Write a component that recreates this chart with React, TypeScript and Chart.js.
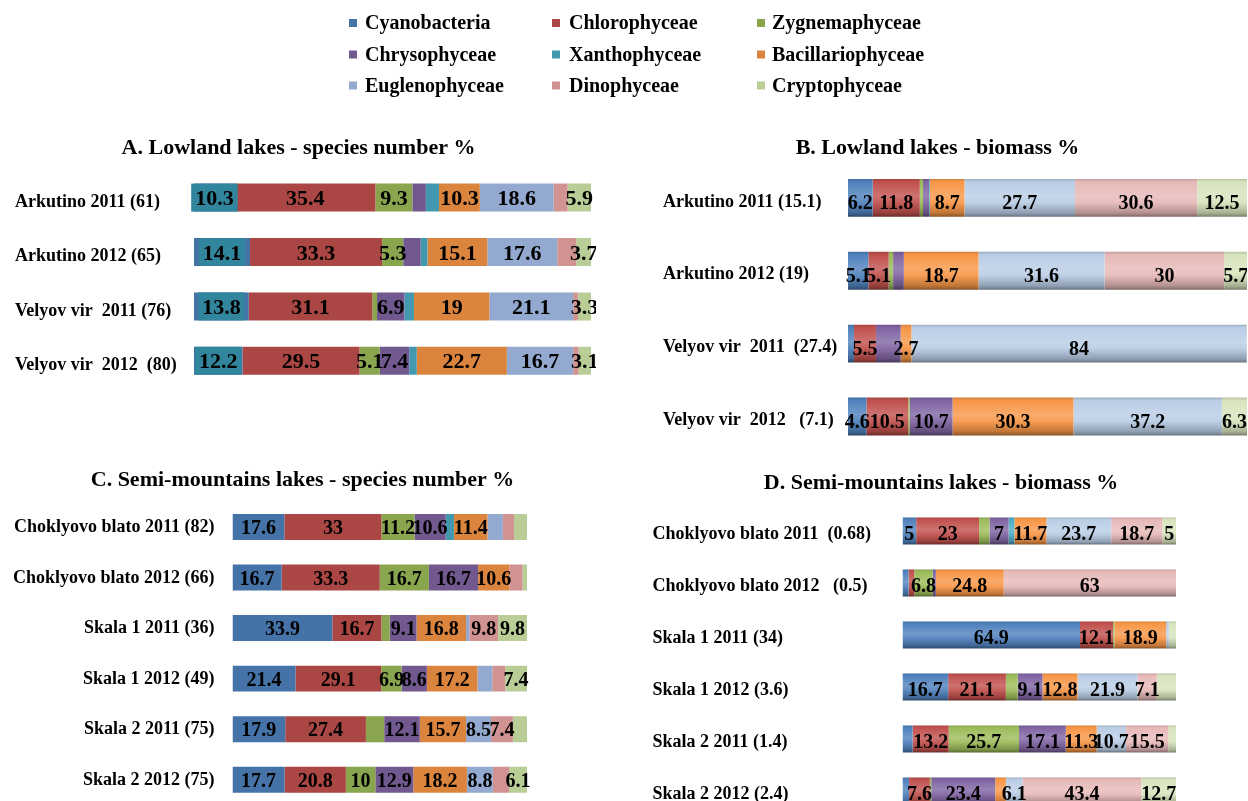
import React, { useEffect, useRef } from 'react';
import { Chart, registerables } from 'chart.js';

Chart.register(...registerables);

const FONT = "'Liberation Serif', 'Times New Roman', Times, serif";

// ---------------- data ----------------
const SERIES = [
  'Cyanobacteria', 'Chlorophyceae', 'Zygnemaphyceae',
  'Chrysophyceae', 'Xanthophyceae', 'Bacillariophyceae',
  'Euglenophyceae', 'Dinophyceae', 'Cryptophyceae',
];
const FLAT_COLORS = ['#4572A7', '#AA4643', '#89A54E', '#71588F', '#4198AF', '#DB843D', '#93A9CF', '#D19392', '#B9CD96'];
const GRADIENT_COLORS = ['#4F81BD', '#C0504D', '#9BBB59', '#8064A2', '#4BACC6', '#F79646', '#B9CDE5', '#E6B9B8', '#D7E4BD'];
const LABEL_BOX_COLOR = '#31859C';

// A. Lowland lakes - species number %
const A_TITLE = 'A. Lowland lakes - species number %';
const A_LAKES = ['Arkutino 2011 (61)', 'Arkutino 2012 (65)', 'Velyov vir  2011 (76)', 'Velyov vir  2012  (80)'];
const A_VALUES = [
  [10.3, 35.4, 9.3, 3.4, 3.3, 10.3, 18.6, 3.5, 5.9],
  [14.1, 33.3, 5.3, 4.4, 1.7, 15.1, 17.6, 4.8, 3.7],
  [13.8, 31.1, 1.2, 6.9, 2.4, 19, 21.1, 1.2, 3.3],
  [12.2, 29.5, 5.1, 7.4, 1.9, 22.7, 16.7, 1.4, 3.1],
];
const A_SHOWN = [
  [1, 1, 1, 0, 0, 1, 1, 0, 1],
  [1, 1, 1, 0, 0, 1, 1, 0, 1],
  [1, 1, 0, 1, 0, 1, 1, 0, 1],
  [1, 1, 1, 1, 0, 1, 1, 0, 1],
];

// B. Lowland lakes - biomass %
const B_TITLE = 'B. Lowland lakes - biomass %';
const B_LAKES = ['Arkutino 2011 (15.1)', 'Arkutino 2012 (19)', 'Velyov vir  2011  (27.4)', 'Velyov vir  2012   (7.1)'];
const B_VALUES = [
  [6.2, 11.8, 0.8, 1.5, 0.2, 8.7, 27.7, 30.6, 12.5],
  [5.1, 5.1, 1.1, 2.7, 0, 18.7, 31.6, 30, 5.7],
  [1.5, 5.5, 0, 6.2, 0, 2.7, 84, 0.1, 0],
  [4.6, 10.5, 0.4, 10.7, 0, 30.3, 37.2, 0, 6.3],
];
const B_SHOWN = [
  [1, 1, 0, 0, 0, 1, 1, 1, 1],
  [1, 1, 0, 0, 0, 1, 1, 1, 1],
  [0, 1, 0, 0, 0, 1, 1, 0, 0],
  [1, 1, 0, 1, 0, 1, 1, 0, 1],
];

// C. Semi-mountains lakes - species number %
const C_TITLE = 'C. Semi-mountains lakes - species number %';
const C_LAKES = ['Choklyovo blato 2011 (82)', 'Choklyovo blato 2012 (66)', 'Skala 1 2011 (36)', 'Skala 1 2012 (49)', 'Skala 2 2011 (75)', 'Skala 2 2012 (75)'];
const C_VALUES = [
  [17.6, 33, 11.2, 10.6, 2.8, 11.4, 5.2, 3.8, 4.4],
  [16.7, 33.3, 16.7, 16.7, 0, 10.6, 0, 4.5, 1.5],
  [33.9, 16.7, 2.8, 9.1, 0, 16.8, 1.1, 9.8, 9.8],
  [21.4, 29.1, 6.9, 8.6, 0, 17.2, 5.0, 4.4, 7.4],
  [17.9, 27.4, 6.2, 12.1, 0, 15.7, 8.5, 7.4, 4.8],
  [17.7, 20.8, 10, 12.9, 0, 18.2, 8.8, 5.5, 6.1],
];
const C_SHOWN = [
  [1, 1, 1, 1, 0, 1, 0, 0, 0],
  [1, 1, 1, 1, 0, 1, 0, 0, 0],
  [1, 1, 0, 1, 0, 1, 0, 1, 1],
  [1, 1, 1, 1, 0, 1, 0, 0, 1],
  [1, 1, 0, 1, 0, 1, 1, 1, 0],
  [1, 1, 1, 1, 0, 1, 1, 0, 1],
];

// D. Semi-mountains lakes - biomass %
const D_TITLE = 'D. Semi-mountains lakes - biomass %';
const D_LAKES = ['Choklyovo blato 2011  (0.68)', 'Choklyovo blato 2012   (0.5)', 'Skala 1 2011 (34)', 'Skala 1 2012 (3.6)', 'Skala 2 2011 (1.4)', 'Skala 2 2012 (2.4)'];
const D_VALUES = [
  [5, 23, 3.8, 7, 2.1, 11.7, 23.7, 18.7, 5],
  [2.2, 2.1, 6.8, 1.1, 0, 24.8, 0, 63, 0],
  [64.9, 12.1, 0.5, 0, 0, 18.9, 1, 0, 2.6],
  [16.7, 21.1, 4.3, 9.1, 0, 12.8, 21.9, 7.1, 7.0],
  [3.7, 13.2, 25.7, 17.1, 0, 11.3, 10.7, 15.5, 2.8],
  [2.4, 7.6, 0.5, 23.4, 0, 3.9, 6.1, 43.4, 12.7],
];
const D_SHOWN = [
  [1, 1, 0, 1, 0, 1, 1, 1, 1],
  [0, 0, 1, 0, 0, 1, 0, 1, 0],
  [1, 1, 0, 0, 0, 1, 0, 0, 0],
  [1, 1, 0, 1, 0, 1, 1, 1, 0],
  [0, 1, 1, 1, 0, 1, 1, 1, 0],
  [0, 1, 0, 1, 0, 0, 1, 1, 1],
];

// ---------------- layout / style ----------------
type PanelDef = {
  title: string;
  lakes: string[];
  values: number[][];
  shown: number[][];
  gradient: boolean;
  left: number; top: number; width: number; height: number;
  padW: number; yW: number; rW: number;
  titlePadTop: number; titlePadBottom: number;
  tickPad: number; crossAlign: 'near' | 'center' | 'far'; tickDy: number;
  labelSize: number; labelDy: number;
  barPct: number;
  boxSeries: number;
};

const PANELS: PanelDef[] = [
  {
    title: A_TITLE, lakes: A_LAKES, values: A_VALUES, shown: A_SHOWN, gradient: false,
    left: 1, top: 120, width: 595, height: 268, padW: 14, yW: 179, rW: 5,
    titlePadTop: 15, titlePadBottom: 9, tickPad: 15, crossAlign: 'far', tickDy: 4.5,
    labelSize: 22, labelDy: 2, barPct: 0.514, boxSeries: 0,
  },
  {
    title: B_TITLE, lakes: B_LAKES, values: B_VALUES, shown: B_SHOWN, gradient: true,
    left: 628, top: 120, width: 619, height: 333, padW: 35, yW: 185, rW: 0,
    titlePadTop: 15, titlePadBottom: 0, tickPad: 8, crossAlign: 'far', tickDy: 4,
    labelSize: 20, labelDy: 6, barPct: 0.52, boxSeries: -1,
  },
  {
    title: C_TITLE, lakes: C_LAKES, values: C_VALUES, shown: C_SHOWN, gradient: false,
    left: 5, top: 455, width: 595, height: 350, padW: 0, yW: 227.5, rW: 73,
    titlePadTop: 12.3, titlePadBottom: 8, tickPad: 18, crossAlign: 'near', tickDy: 0.5,
    labelSize: 20, labelDy: 2, barPct: 0.514, boxSeries: -1,
  },
  {
    title: D_TITLE, lakes: D_LAKES, values: D_VALUES, shown: D_SHOWN, gradient: true,
    left: 640, top: 455, width: 602, height: 362, padW: 12.5, yW: 250, rW: 66,
    titlePadTop: 14.8, titlePadBottom: 8.8, tickPad: 30, crossAlign: 'far', tickDy: 3,
    labelSize: 20, labelDy: 4, barPct: 0.52, boxSeries: -1,
  },
];

const LEGEND_BOX_X = [349, 552, 757];
const LEGEND_TEXT_X = [365, 569, 772];
const LEGEND_ROW_Y = [23, 54.5, 85.5];

// ---------------- helpers ----------------
function hexToRgb(h: string) {
  const n = parseInt(h.slice(1), 16);
  return [(n >> 16) & 255, (n >> 8) & 255, n & 255];
}
function mix(h: string, target: number, t: number) {
  const [r, g, b] = hexToRgb(h);
  const f = (c: number) => Math.round(c + (target - c) * t);
  return `rgb(${f(r)},${f(g)},${f(b)})`;
}

function gradientFill(c: any, hex: string, barPct: number) {
  const chart = c.chart;
  const area = chart.chartArea;
  const ys = chart.scales && chart.scales.y;
  if (!area || !ys || c.dataIndex === undefined) return hex;
  const n = chart.data.labels.length;
  const band = (area.bottom - area.top) / n;
  const h = band * barPct;
  const yc = ys.getPixelForValue(c.dataIndex);
  if (!isFinite(yc) || !isFinite(h) || h <= 0) return hex;
  const g = chart.ctx.createLinearGradient(0, yc - h / 2, 0, yc + h / 2);
  g.addColorStop(0, mix(hex, 0, 0.15));
  g.addColorStop(0.08, hex);
  g.addColorStop(0.45, mix(hex, 255, 0.2));
  g.addColorStop(0.62, mix(hex, 255, 0.08));
  g.addColorStop(0.9, mix(hex, 0, 0.22));
  g.addColorStop(1, mix(hex, 0, 0.45));
  return g;
}

function makeValueLabels(p: PanelDef) {
  return {
    id: 'valueLabels',
    afterDatasetsDraw(chart: any) {
      const ctx = chart.ctx;
      ctx.save();
      ctx.font = `bold ${p.labelSize}px ${FONT}`;
      ctx.textAlign = 'center';
      ctx.textBaseline = 'middle';
      chart.data.datasets.forEach((ds: any, s: number) => {
        const meta = chart.getDatasetMeta(s);
        meta.data.forEach((bar: any, i: number) => {
          if (!p.shown[i] || !p.shown[i][s]) return;
          const { x, y, base, height } = bar.getProps(['x', 'y', 'base', 'height'], true);
          const cx = (x + base) / 2;
          const text = String(ds.data[i]);
          if (s === p.boxSeries) {
            const w = ctx.measureText(text).width + 8;
            ctx.fillStyle = LABEL_BOX_COLOR;
            ctx.fillRect(cx - w / 2, y - height / 2, w, height);
          }
          ctx.fillStyle = '#000';
          ctx.fillText(text, cx, y + p.labelDy);
        });
      });
      ctx.restore();
    },
  };
}

function spacerAxis(position: 'left' | 'right', width: number, weight: number) {
  return {
    type: 'category',
    position,
    weight,
    grid: { display: false, drawTicks: false },
    border: { display: false },
    ticks: { display: false },
    afterFit: (sc: any) => {
      sc.width = width;
      sc.paddingTop = 0;
      sc.paddingBottom = 0;
    },
  };
}

function buildConfig(p: PanelDef): any {
  const datasets = SERIES.map((name, s) => ({
    label: name,
    data: p.values.map((row) => row[s]),
    backgroundColor: p.gradient
      ? (c: any) => gradientFill(c, GRADIENT_COLORS[s], p.barPct)
      : FLAT_COLORS[s],
    borderWidth: 0,
    barPercentage: p.barPct,
    categoryPercentage: 1,
  }));
  return {
    type: 'bar',
    data: { labels: p.lakes, datasets },
    options: {
      indexAxis: 'y',
      responsive: false,
      animation: false,
      devicePixelRatio: 1,
      layout: { padding: 0 },
      events: [],
      scales: {
        x: { stacked: true, min: 0, max: 100, display: false },
        y: {
          stacked: true,
          position: 'left',
          weight: 0,
          grid: { display: false, drawTicks: false },
          border: { display: false },
          ticks: {
            color: '#000',
            font: { family: FONT, size: 18, weight: 'bold' },
            padding: p.tickPad,
            crossAlign: p.crossAlign,
            labelOffset: p.tickDy,
            autoSkip: false,
          },
          afterFit: (sc: any) => {
            sc.width = p.yW;
            sc.paddingTop = 0;
            sc.paddingBottom = 0;
          },
        },
        yPad: spacerAxis('left', p.padW, 10),
        yR: spacerAxis('right', p.rW, 0),
      },
      plugins: {
        legend: { display: false },
        tooltip: { enabled: false },
        title: {
          display: true,
          text: p.title,
          color: '#000',
          font: { family: FONT, size: 22, weight: 'bold' },
          padding: { top: p.titlePadTop, bottom: p.titlePadBottom },
        },
      },
    },
    plugins: [makeValueLabels(p)],
  };
}

const legendGrid = {
  id: 'legendGrid',
  afterDraw(chart: any) {
    const ctx = chart.ctx;
    ctx.save();
    ctx.font = `bold 20px ${FONT}`;
    ctx.textBaseline = 'middle';
    ctx.textAlign = 'left';
    chart.data.datasets.forEach((ds: any, i: number) => {
      const col = i % 3;
      const row = Math.floor(i / 3);
      const y = LEGEND_ROW_Y[row];
      ctx.fillStyle = ds.backgroundColor;
      ctx.fillRect(LEGEND_BOX_X[col], y - 4, 8, 8);
      ctx.fillStyle = '#000';
      ctx.fillText(ds.label, LEGEND_TEXT_X[col], y + 1);
    });
    ctx.restore();
  },
};

function PanelChart({ panel }: { panel: PanelDef }) {
  const ref = useRef<HTMLCanvasElement>(null);
  useEffect(() => {
    const chart = new Chart(ref.current as HTMLCanvasElement, buildConfig(panel));
    return () => chart.destroy();
  }, [panel]);
  return (
    <canvas
      ref={ref}
      width={panel.width}
      height={panel.height}
      style={{ position: 'absolute', left: panel.left, top: panel.top, width: panel.width, height: panel.height }}
    />
  );
}

function LegendChart() {
  const ref = useRef<HTMLCanvasElement>(null);
  useEffect(() => {
    const chart = new Chart(ref.current as HTMLCanvasElement, {
      type: 'bar',
      data: {
        labels: [],
        datasets: SERIES.map((name, s) => ({ label: name, data: [], backgroundColor: FLAT_COLORS[s] })),
      },
      options: {
        responsive: false,
        animation: false,
        devicePixelRatio: 1,
        events: [],
        scales: { x: { display: false }, y: { display: false } },
        plugins: { legend: { display: false }, tooltip: { enabled: false }, title: { display: false } },
      },
      plugins: [legendGrid],
    } as any);
    return () => chart.destroy();
  }, []);
  return (
    <canvas
      ref={ref}
      width={1248}
      height={110}
      style={{ position: 'absolute', left: 0, top: 0, width: 1248, height: 110 }}
    />
  );
}

export default function App() {
  return (
    <div style={{ position: 'fixed', left: 0, top: 0, width: 1248, height: 801, overflow: 'hidden', background: '#fff' }}>
      <LegendChart />
      {PANELS.map((p, i) => (
        <PanelChart key={i} panel={p} />
      ))}
    </div>
  );
}
